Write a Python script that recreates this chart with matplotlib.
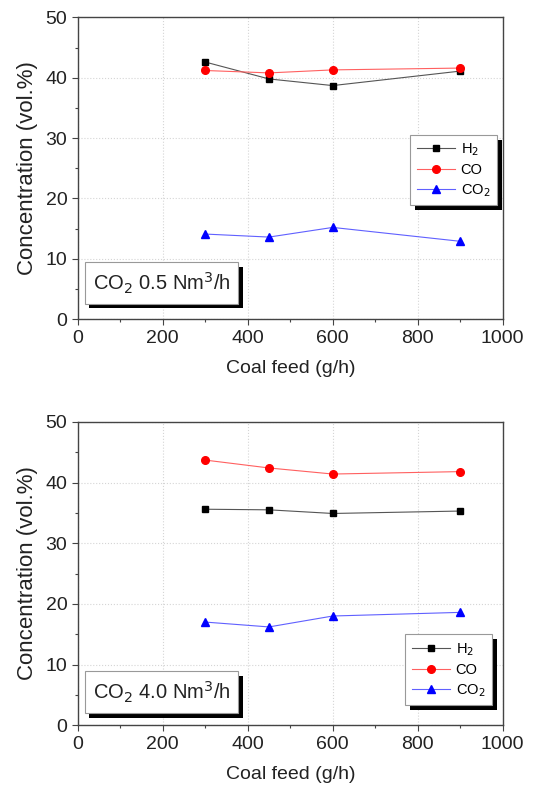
import matplotlib
matplotlib.use("Agg")
import matplotlib.pyplot as plt
import matplotlib.patheffects as pe
from matplotlib.ticker import MultipleLocator

plt.rcParams['font.family'] = ['Liberation Sans', 'DejaVu Sans']

coal_feed = [300, 450, 600, 900]

# Panel 1: CO2 0.5 Nm3/h
h2_a = [42.6, 39.8, 38.7, 41.1]
co_a = [41.2, 40.8, 41.3, 41.6]
co2_a = [14.1, 13.6, 15.2, 12.9]

# Panel 2: CO2 4.0 Nm3/h
h2_b = [35.6, 35.5, 34.9, 35.3]
co_b = [43.7, 42.4, 41.4, 41.8]
co2_b = [17.0, 16.2, 18.0, 18.6]

panel_labels = [r'CO$_2$ 0.5 Nm$^3$/h', r'CO$_2$ 4.0 Nm$^3$/h']
xlabel = 'Coal feed (g/h)'
ylabel = 'Concentration (vol.%)'
legend_labels = [r'H$_2$', 'CO', r'CO$_2$']

fig = plt.figure(figsize=(5.4, 7.9), dpi=100)
ax1 = fig.add_axes([0.144, 0.596, 0.787, 0.382])
ax2 = fig.add_axes([0.144, 0.082, 0.787, 0.384])

shadow = [pe.SimplePatchShadow(offset=(3.5, -3.5), shadow_rgbFace='black', alpha=1.0), pe.Normal()]

panels = [
    (ax1, h2_a, co_a, co2_a, panel_labels[0], (0.986, 0.377), 0.12),
    (ax2, h2_b, co_b, co2_b, panel_labels[1], (0.974, 0.066), 0.109),
]

for ax, h2, co, co2, lab, legpos, ty in panels:
    ax.plot(coal_feed, h2, color='#555555', lw=0.8, marker='s', ms=5,
            mfc='black', mec='black', label=legend_labels[0])
    ax.plot(coal_feed, co, color='#ff6060', lw=0.8, marker='o', ms=5.5,
            mfc='red', mec='red', label=legend_labels[1])
    ax.plot(coal_feed, co2, color='#6060ff', lw=0.8, marker='^', ms=5.5,
            mfc='blue', mec='blue', label=legend_labels[2])
    ax.set_xlim(0, 1000)
    ax.set_ylim(0, 50)
    ax.xaxis.set_major_locator(MultipleLocator(200))
    ax.xaxis.set_minor_locator(MultipleLocator(100))
    ax.yaxis.set_major_locator(MultipleLocator(10))
    ax.yaxis.set_minor_locator(MultipleLocator(5))
    ax.tick_params(which='major', direction='out', length=4, width=0.8, labelsize=14,
                   color='#444444', labelcolor='#222222')
    ax.tick_params(which='minor', direction='out', length=2, width=0.8, color='#444444')
    ax.grid(True, which='major', color='#d5d5d5', linestyle=':', lw=0.8)
    for s in ax.spines.values():
        s.set_color('#444444')
        s.set_linewidth(1.0)
    ax.set_xlabel(xlabel, fontsize=14, color='#222222')
    ax.set_ylabel(ylabel, fontsize=16, color='#222222')
    ax.xaxis.set_label_coords(0.5, -0.135)
    ax.yaxis.set_label_coords(-0.094, 0.5)
    leg = ax.legend(loc='lower right', bbox_to_anchor=legpos, fontsize=10.5,
                    frameon=True, fancybox=False, edgecolor='#999999', framealpha=1.0,
                    handlelength=2.6, handletextpad=0.4, labelspacing=0.35,
                    borderpad=0.45, borderaxespad=0)
    leg.get_frame().set_linewidth(0.8)
    leg.get_frame().set_path_effects(shadow)
    t = ax.text(0.035, ty, lab, transform=ax.transAxes, fontsize=14.5,
                va='center', ha='left', color='#222222',
                bbox=dict(boxstyle='square,pad=0.4', fc='white', ec='#999999', lw=0.8))
    t.get_bbox_patch().set_path_effects(shadow)

fig.savefig('out.png', dpi=100)
